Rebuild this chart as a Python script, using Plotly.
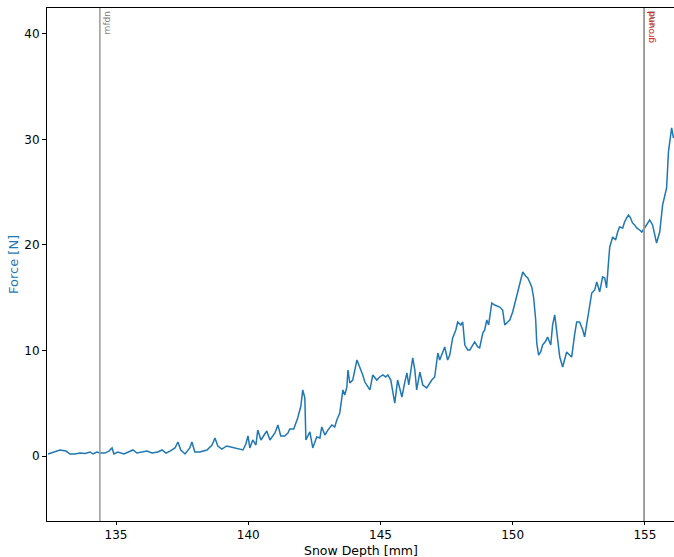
import plotly.graph_objects as go

# snow depth [mm] and force [N]
depth = [
    132.43, 132.62, 132.88, 133.11, 133.26, 133.45, 133.64, 133.83, 134.02, 134.13,
    134.28, 134.39, 134.58, 134.73, 134.85, 134.92, 135.07, 135.30, 135.45, 135.64,
    135.79, 135.98, 136.17, 136.36, 136.58, 136.74, 136.89, 137.04, 137.23, 137.34,
    137.45, 137.61, 137.79, 137.87, 137.98, 138.17, 138.44, 138.63, 138.74, 138.85,
    139.00, 139.19, 139.38, 139.61, 139.80, 139.91, 139.99, 140.06, 140.17, 140.29,
    140.36, 140.48, 140.59, 140.70, 140.82, 140.93, 141.01, 141.12, 141.23, 141.38,
    141.50, 141.57, 141.72, 141.87, 141.99, 142.06, 142.14, 142.18, 142.33, 142.44,
    142.59, 142.71, 142.78, 142.90, 143.01, 143.16, 143.27, 143.35, 143.46, 143.58,
    143.65, 143.73, 143.77, 143.84, 143.95, 144.11, 144.22, 144.33, 144.41, 144.52,
    144.60, 144.71, 144.86, 144.97, 145.09, 145.20, 145.28, 145.39, 145.47, 145.54,
    145.65, 145.73, 145.81, 145.92, 146.00, 146.07, 146.15, 146.22, 146.30, 146.37,
    146.49, 146.60, 146.75, 146.86, 146.94, 147.05, 147.17, 147.24, 147.32, 147.43,
    147.54, 147.62, 147.73, 147.85, 147.92, 148.04, 148.11, 148.19, 148.30, 148.38,
    148.49, 148.56, 148.68, 148.75, 148.87, 148.94, 149.02, 149.09, 149.21, 149.32,
    149.51, 149.62, 149.70, 149.81, 149.89, 150.00, 150.11, 150.19, 150.30, 150.38,
    150.49, 150.57, 150.64, 150.72, 150.79, 150.87, 150.91, 150.98, 151.06, 151.13,
    151.25, 151.32, 151.44, 151.51, 151.59, 151.66, 151.70, 151.78, 151.89, 151.97,
    152.04, 152.15, 152.23, 152.34, 152.42, 152.53, 152.65, 152.72, 152.80, 152.91,
    152.99, 153.10, 153.18, 153.29, 153.40, 153.48, 153.55, 153.63, 153.67, 153.78,
    153.89, 153.97, 154.04, 154.16, 154.23, 154.31, 154.38, 154.45, 154.53, 154.61,
    154.69, 154.80, 154.88, 154.99, 155.10, 155.18, 155.29, 155.37, 155.44, 155.56,
    155.67, 155.74, 155.82, 155.89, 155.97, 156.01, 156.08,
]
force = [
    0.19, 0.38, 0.57, 0.47, 0.19, 0.19, 0.28, 0.24, 0.38, 0.19,
    0.38, 0.28, 0.28, 0.47, 0.76, 0.19, 0.38, 0.19, 0.38, 0.57,
    0.28, 0.38, 0.47, 0.28, 0.38, 0.57, 0.28, 0.47, 0.76, 1.33,
    0.57, 0.19, 0.76, 1.33, 0.38, 0.38, 0.57, 1.04, 1.71, 0.95,
    0.66, 0.95, 0.85, 0.66, 0.57, 1.14, 1.90, 0.76, 1.52, 1.04,
    2.46, 1.52, 1.90, 2.37, 1.52, 1.90, 2.18, 2.94, 1.90, 1.90,
    2.18, 2.56, 2.56, 3.60, 4.74, 6.26, 5.50, 1.52, 2.28, 0.76,
    1.80, 1.71, 2.75, 1.99, 2.46, 2.94, 2.75, 3.41, 4.08, 6.26,
    5.78, 6.54, 8.15, 6.92, 7.20, 9.10, 8.44, 7.68, 7.01, 6.64,
    6.26, 7.68, 7.20, 7.49, 7.68, 7.49, 7.68, 7.20, 6.07, 5.02,
    7.20, 6.26, 5.59, 7.01, 7.87, 6.73, 8.34, 9.29, 8.15, 6.26,
    7.96, 6.73, 6.45, 6.92, 7.20, 7.49, 9.76, 9.10, 9.57, 10.33,
    9.10, 9.57, 11.19, 11.94, 12.70, 12.42, 12.70, 10.52, 10.05, 10.05,
    10.52, 10.81, 10.33, 10.24, 11.66, 11.94, 12.89, 12.42, 14.50, 14.31,
    14.12, 13.84, 12.42, 12.70, 12.89, 13.65, 14.79, 15.74, 16.87, 17.44,
    17.06, 16.87, 16.49, 16.02, 15.07, 12.89, 10.71, 9.57, 9.86, 10.52,
    10.90, 11.28, 10.52, 12.42, 13.37, 11.94, 11.28, 9.38, 8.44, 9.10,
    9.86, 9.57, 9.38, 11.47, 12.70, 12.70, 11.94, 11.28, 12.61, 14.31,
    15.45, 15.74, 16.49, 15.55, 16.97, 16.87, 15.93, 18.58, 19.81, 20.76,
    20.47, 21.23, 21.71, 21.61, 22.18, 22.56, 22.84, 22.60, 22.09, 21.90,
    21.61, 21.42, 21.23, 21.61, 21.99, 22.37, 21.90, 20.95, 20.19, 21.23,
    23.80, 24.55, 25.40, 28.82, 30.43, 31.09, 30.14,
]

# markers: (name, position, colour)
marker_names = ["mfdn", "end", "ground"]
marker_pos = [134.39, 154.97, 154.97]
marker_colors = ["#808080", "#808080", "#d62728"]

x_range = [132.39, 156.1]
y_range = [-6.16, 42.46]

fig = go.Figure()

fig.add_trace(go.Scatter(
    x=depth, y=force, mode="lines",
    line=dict(color="#1f77b4", width=1.5),
    showlegend=False,
))

for name, pos, col in zip(marker_names, marker_pos, marker_colors):
    fig.add_vline(x=pos, line=dict(color="#999999", width=1.5))
    fig.add_annotation(
        x=pos, y=1, xref="x", yref="paper",
        text=name, showarrow=False, textangle=-90,
        xanchor="left", yanchor="top", yshift=-1,
        font=dict(size=9, color=col, family="DejaVu Sans"),
    )

# axis titles as annotations so they sit exactly where the reference has them
fig.add_annotation(
    x=0.5, y=0, xref="paper", yref="paper", yanchor="top", yshift=-20,
    text="Snow Depth [mm]", showarrow=False,
    font=dict(size=12.5, color="black", family="DejaVu Sans"),
)
fig.add_annotation(
    x=0, y=0.5, xref="paper", yref="paper", xanchor="right", xshift=-24,
    text="Force [N]", showarrow=False, textangle=-90,
    font=dict(size=13, color="#1f77b4", family="DejaVu Sans"),
)

axis_style = dict(
    showline=True, linecolor="black", linewidth=1, mirror=True,
    ticks="outside", ticklen=4, tickcolor="black",
    showgrid=False, zeroline=False, automargin=False,
    tickfont=dict(size=12, color="black", family="DejaVu Sans"),
)

fig.update_xaxes(range=x_range, tickvals=[135, 140, 145, 150, 155], **axis_style)
fig.update_xaxes(ticklen=3)
fig.update_yaxes(range=y_range, tickvals=[0, 10, 20, 30, 40], **axis_style)

fig.update_layout(
    width=674, height=557,
    margin=dict(l=47, r=0, t=8, b=36),
    plot_bgcolor="white", paper_bgcolor="white",
    font=dict(family="DejaVu Sans"),
)

# drop the default page margin so the figure fills the window exactly
fig.write_html(
    "out.html",
    config={"displayModeBar": False},
    post_script="document.body.style.margin='0';document.body.style.overflow='hidden';",
)
